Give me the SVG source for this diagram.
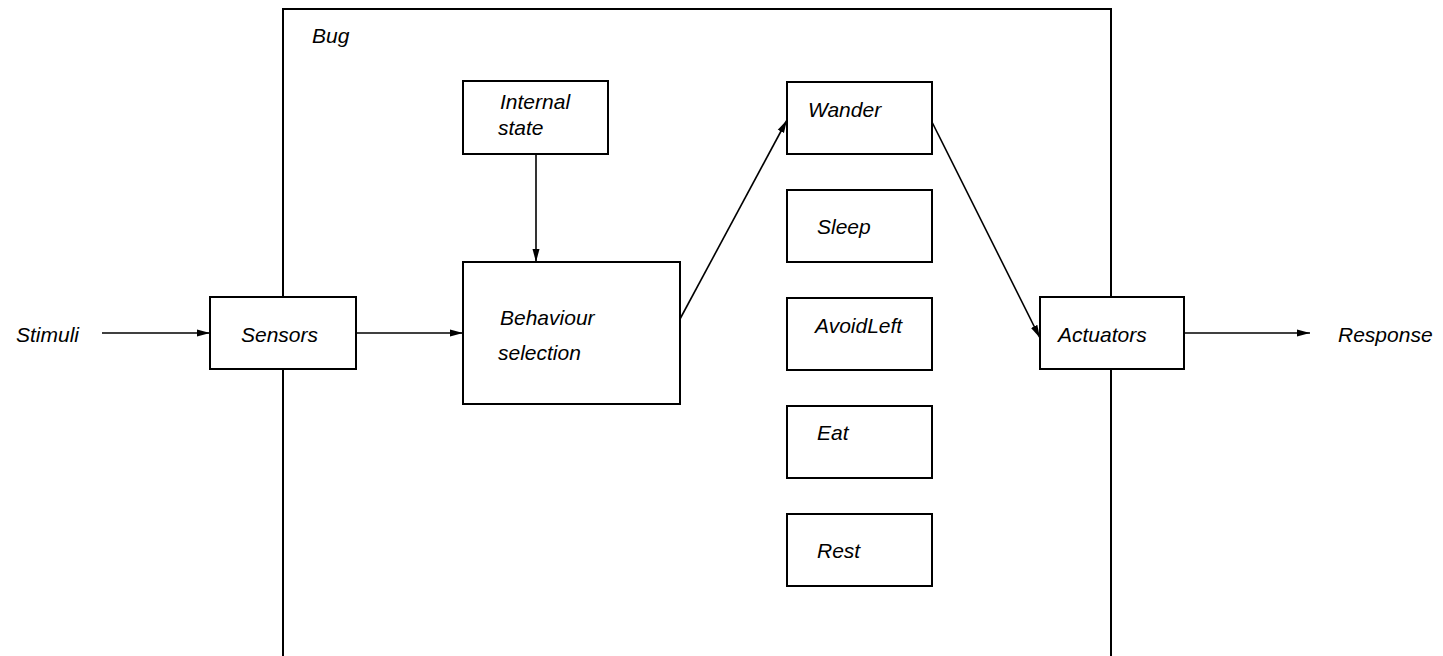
<svg xmlns="http://www.w3.org/2000/svg" width="1443" height="656" viewBox="0 0 1443 656">
<style>
.box{fill:#fff;stroke:#000;stroke-width:2}
.lbl{font-family:"Liberation Sans",Arial,sans-serif;font-style:italic;font-size:21px;fill:#000}
.conn{stroke:#000;stroke-width:1.6;fill:none;marker-end:url(#ah)}
</style>
<defs>
<marker id="ah" markerUnits="userSpaceOnUse" markerWidth="14" markerHeight="10" refX="13" refY="4" orient="auto">
<path d="M0,0.5 L13,4 L0,7.5 z" fill="#000"/>
</marker>
</defs>
<rect width="1443" height="656" fill="#fff"/>
<g id="bug">
<path d="M283,660 L283,9 L1111,9 L1111,660" fill="none" stroke="#000" stroke-width="2"/>
<text class="lbl" x="312" y="43">Bug</text>
</g>
<g id="stimuli"><text class="lbl" x="16" y="342">Stimuli</text></g>
<g id="response"><text class="lbl" x="1338" y="342">Response</text></g>
<g id="sensors"><rect class="box" x="210" y="297" width="146" height="72"/><text class="lbl" x="241" y="342">Sensors</text></g>
<g id="internal"><rect class="box" x="463" y="81" width="145" height="73"/><text class="lbl" x="500" y="109">Internal</text><text class="lbl" x="498" y="135">state</text></g>
<g id="behaviour"><rect class="box" x="463" y="262" width="217" height="142"/><text class="lbl" x="500" y="325">Behaviour</text><text class="lbl" x="498" y="360">selection</text></g>
<g id="wander"><rect class="box" x="787" y="82" width="145" height="72"/><text class="lbl" x="808" y="117">Wander</text></g>
<g id="sleep"><rect class="box" x="787" y="190" width="145" height="72"/><text class="lbl" x="817" y="234">Sleep</text></g>
<g id="avoidleft"><rect class="box" x="787" y="298" width="145" height="72"/><text class="lbl" x="815" y="333">AvoidLeft</text></g>
<g id="eat"><rect class="box" x="787" y="406" width="145" height="72"/><text class="lbl" x="817" y="440">Eat</text></g>
<g id="rest"><rect class="box" x="787" y="514" width="145" height="72"/><text class="lbl" x="817" y="558">Rest</text></g>
<g id="actuators"><rect class="box" x="1040" y="297" width="144" height="72"/><text class="lbl" x="1058" y="342">Actuators</text></g>
<g id="connectors">
<line class="conn" x1="102" y1="333" x2="210" y2="333"/>
<line class="conn" x1="356" y1="333" x2="463" y2="333"/>
<line class="conn" x1="536" y1="154" x2="536" y2="262"/>
<line class="conn" x1="680" y1="319" x2="787" y2="120"/>
<line class="conn" x1="932" y1="122" x2="1040" y2="338"/>
<line class="conn" x1="1184" y1="333" x2="1310" y2="333"/>
</g>
</svg>
